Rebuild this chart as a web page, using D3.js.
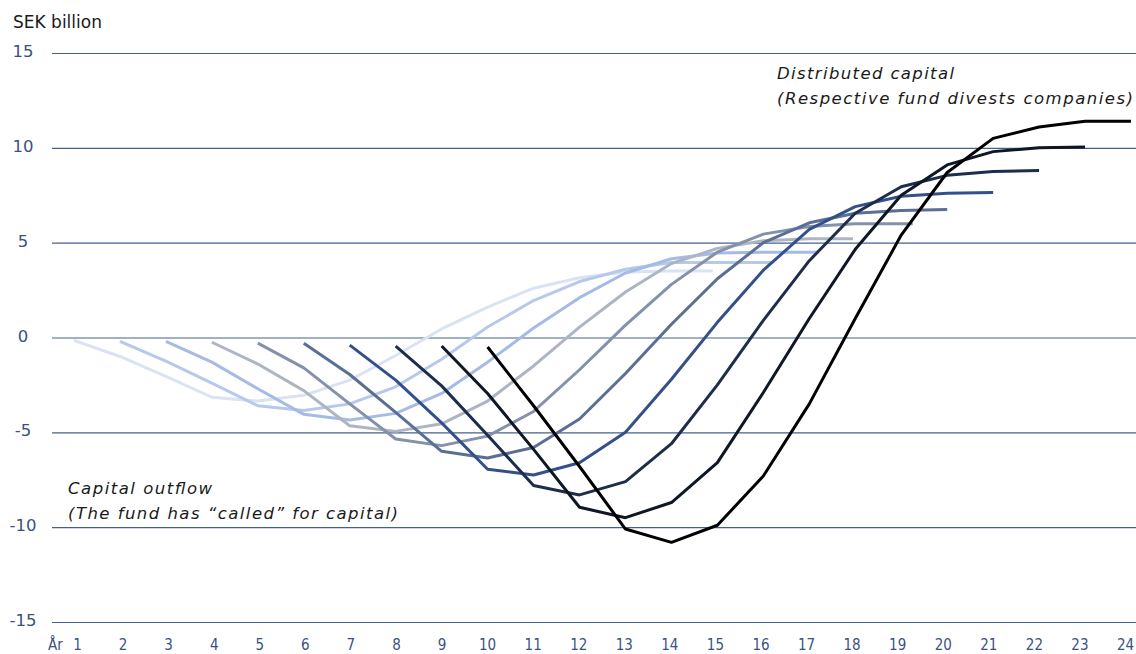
<!DOCTYPE html>
<html>
<head>
<meta charset="utf-8">
<script src="https://cdn.jsdelivr.net/npm/d3@7"></script>
<style>
  html, body { margin: 0; padding: 0; background: #fff; }
  svg { display: block; }
</style>
</head>
<body>
<script>
// ---- data ----
const yearLabels = ["1","2","3","4","5","6","7","8","9","10","11","12","13","14","15","16","17","18","19","20","21","22","23","24"];
const yTicks = [15, 10, 5, 0, -5, -10, -15];
const fundStartYear = [1, 2, 3, 4, 5, 6, 7, 8, 9, 10];
const fundEndYear = [14.9, 16.2, 17.2, 17.95, 19.25, 20, 21, 22, 23, 24];
const fund1  = [-0.15, -1.0, -2.05, -3.15, -3.35, -3.05, -2.25, -0.95, 0.45, 1.6, 2.6, 3.15, 3.45, 3.5, 3.5];
const fund2  = [-0.2, -1.25, -2.4, -3.6, -3.85, -3.5, -2.6, -1.15, 0.55, 1.95, 2.95, 3.6, 3.95, 3.95, 3.95];
const fund3  = [-0.2, -1.3, -2.7, -4.05, -4.35, -4.0, -2.95, -1.3, 0.5, 2.1, 3.4, 4.15, 4.45, 4.5, 4.5];
const fund4  = [-0.25, -1.4, -2.8, -4.65, -4.95, -4.55, -3.35, -1.5, 0.55, 2.4, 3.9, 4.7, 5.1, 5.2, 5.2];
const fund5  = [-0.3, -1.6, -3.5, -5.35, -5.7, -5.2, -3.9, -1.7, 0.65, 2.8, 4.5, 5.45, 5.85, 6.0, 6.0];
const fund6  = [-0.3, -1.95, -3.95, -6.0, -6.35, -5.8, -4.3, -1.9, 0.7, 3.1, 5.0, 6.05, 6.55, 6.7, 6.75];
const fund7  = [-0.4, -2.25, -4.5, -6.95, -7.25, -6.6, -5.0, -2.2, 0.8, 3.55, 5.7, 6.9, 7.45, 7.6, 7.65];
const fund8  = [-0.45, -2.55, -5.15, -7.8, -8.3, -7.6, -5.6, -2.5, 0.9, 4.05, 6.55, 7.95, 8.55, 8.75, 8.8];
const fund9  = [-0.45, -2.95, -5.9, -8.95, -9.5, -8.7, -6.6, -2.9, 1.0, 4.65, 7.5, 9.1, 9.8, 10.0, 10.05];
const fund10 = [-0.5, -3.6, -6.8, -10.1, -10.8, -9.9, -7.3, -3.5, 1.0, 5.4, 8.7, 10.5, 11.1, 11.4, 11.4];
const funds = [fund1, fund2, fund3, fund4, fund5, fund6, fund7, fund8, fund9, fund10];
const fundColors = ["#d9e3f4", "#b7c9ea", "#a5bbe5", "#adb5c3", "#8491ab", "#5b6e95", "#34508a", "#1e2d4c", "#0f1624", "#000000"];

// ---- layout ----
const W = 1136, H = 654;
const svg = d3.select("body").append("svg").attr("width", W).attr("height", H);

const x = d3.scaleLinear().domain([1, 24]).range([74, 1131]);
const xLabel = d3.scaleLinear().domain([1, 24]).range([77, 1125]);
const y = d3.scaleLinear().domain([-15, 15]).range([622, 53]);

const tickColor = "#3a5282";

// gridlines + y labels
const yAxis = d3.axisLeft(y).tickValues(yTicks).tickSize(-(W - 52)).tickFormat(d => String(d));
const gy = svg.append("g").attr("transform", "translate(52,0)").call(yAxis);
gy.select(".domain").remove();
gy.selectAll(".tick line").attr("stroke", "#44608f").attr("stroke-width", 1.1);
gy.selectAll(".tick text")
  .attr("x", -29).attr("dy", "0.22em")
  .attr("text-anchor", "middle")
  .attr("fill", tickColor)
  .style("font-family", "'DejaVu Sans', Verdana, sans-serif")
  .style("font-size", "16.5px");

// x labels
const xAxis = d3.axisBottom(xLabel).tickValues(d3.range(1, 25)).tickSize(0)
  .tickFormat((d, i) => yearLabels[i]);
const gx = svg.append("g").attr("transform", "translate(0,636)").call(xAxis);
gx.select(".domain").remove();
gx.selectAll(".tick text")
  .attr("fill", tickColor)
  .style("font-family", "'DejaVu Sans Condensed', 'DejaVu Sans', sans-serif")
  .style("font-size", "15px");

svg.append("text").attr("x", 48).attr("y", 649.5)
  .attr("fill", tickColor)
  .style("font-family", "'DejaVu Sans Condensed', 'DejaVu Sans', sans-serif")
  .style("font-size", "15px").text("År");

// axis title
svg.append("text").attr("x", 13).attr("y", 28)
  .attr("fill", "#1a1a1a")
  .style("font-family", "'DejaVu Sans', Verdana, sans-serif")
  .style("font-size", "17px").text("SEK billion");

// lines
const line = d3.line().x(d => x(d[0])).y(d => y(d[1]));
funds.forEach((vals, i) => {
  const pts = vals.map((v, k) => [k === vals.length - 1 ? fundEndYear[i] : fundStartYear[i] + k, v]);
  svg.append("path").datum(pts)
    .attr("d", line)
    .attr("fill", "none")
    .attr("stroke", fundColors[i])
    .attr("stroke-width", 3)
    .attr("stroke-linejoin", "round");
});

// annotations
function note(xp, yp, txt, len) {
  svg.append("text").attr("x", xp).attr("y", yp)
    .attr("fill", "#1a1a1a")
    .attr("textLength", len).attr("lengthAdjust", "spacing")
    .style("font-family", "'DejaVu Sans', Verdana, sans-serif")
    .style("font-style", "italic")
    .style("font-size", "16.5px").text(txt);
}
note(777, 79, "Distributed capital", 177);
note(777, 104, "(Respective fund divests companies)", 356);
note(68, 494, "Capital outflow", 144);
note(68, 519, "(The fund has \u201Ccalled\u201D for capital)", 330);
</script>
</body>
</html>
